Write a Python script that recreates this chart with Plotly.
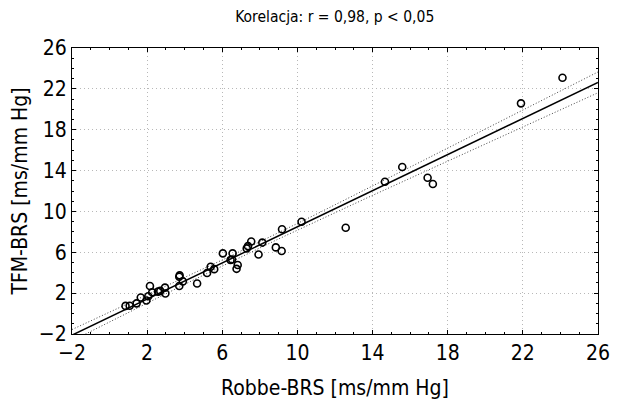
import numpy as np
import plotly.graph_objects as go

robbe = [0.85, 1.07, 1.44, 1.66, 1.96, 2.06, 2.15, 2.27, 2.58, 2.70, 2.95, 2.97,
         3.71, 3.73, 3.71, 3.90, 4.66, 5.19, 5.38, 5.57, 6.03, 6.44, 6.55, 6.52,
         6.76, 6.82, 7.30, 7.54, 7.37, 7.93, 8.13, 8.85, 9.16, 9.18, 10.22, 12.57,
         14.66, 15.58, 16.93, 17.21, 21.90, 24.11]
tfm = [0.75, 0.76, 1.00, 1.58, 1.28, 1.70, 2.70, 2.08, 2.15, 2.22, 2.54, 1.97,
       2.70, 3.74, 3.60, 3.15, 2.95, 3.97, 4.58, 4.35, 5.89, 5.25, 5.89, 5.30,
       4.38, 4.75, 6.38, 7.06, 6.60, 5.79, 6.95, 6.48, 6.12, 8.25, 8.99, 8.40,
       12.90, 14.35, 13.30, 12.68, 20.58, 23.09]

title_text = "Korelacja: r = 0,98, p < 0,05"
x_title = "Robbe-BRS [ms/mm Hg]"
y_title = "TFM-BRS [ms/mm Hg]"
tick_vals = [-2, 2, 6, 10, 14, 18, 22, 26]

x = np.array(robbe)
y = np.array(tfm)
n = len(x)
b, a = np.polyfit(x, y, 1)
xs = np.linspace(-2, 26, 200)
yhat = a + b * xs
resid = y - (a + b * x)
s = np.sqrt(np.sum(resid ** 2) / (n - 2))
sxx = np.sum((x - x.mean()) ** 2)
tval = 2.02
se = s * np.sqrt(1.0 / n + (xs - x.mean()) ** 2 / sxx)

FONT = "DejaVu Sans Condensed, sans-serif"

fig = go.Figure()
fig.add_trace(go.Scatter(x=xs, y=yhat + tval * se, mode="lines",
                         line=dict(color="#444", width=1, dash="1px,2px"), hoverinfo="skip"))
fig.add_trace(go.Scatter(x=xs, y=yhat - tval * se, mode="lines",
                         line=dict(color="#444", width=1, dash="1px,2px"), hoverinfo="skip"))
fig.add_trace(go.Scatter(x=xs, y=yhat, mode="lines",
                         line=dict(color="black", width=1.5), hoverinfo="skip"))
fig.add_trace(go.Scatter(x=robbe, y=tfm, mode="markers",
                         marker=dict(symbol="circle-open", size=7, color="black",
                                     line=dict(width=1.6, color="black"))))

axis_common = dict(
    range=[-2, 26], tickvals=tick_vals, showgrid=True, gridcolor="#b8b8b8",
    griddash="1px,3px", gridwidth=1, showline=True, linecolor="black", linewidth=1.2,
    mirror="allticks", ticks="inside", ticklen=4, tickcolor="black", zeroline=False,
    minor=dict(dtick=1, ticks="inside", ticklen=2, tickcolor="black", showgrid=False),
    tickfont=dict(family=FONT, size=21, color="black"),
)

fig.update_layout(
    width=620, height=401,
    margin=dict(l=64, r=30, t=40, b=75),
    paper_bgcolor="white", plot_bgcolor="white",
    showlegend=False,
    title=dict(text=title_text, x=0.527, xanchor="center", y=0.978, yanchor="middle",
               font=dict(family=FONT, size=15.5, color="black")),
    xaxis=dict(axis_common, title=dict(text=x_title, standoff=16,
                                       font=dict(family=FONT, size=21, color="black"))),
    yaxis=dict(axis_common, title=dict(text=y_title, standoff=5,
                                       font=dict(family=FONT, size=21, color="black"))),
)

fig.write_html("out.html")
